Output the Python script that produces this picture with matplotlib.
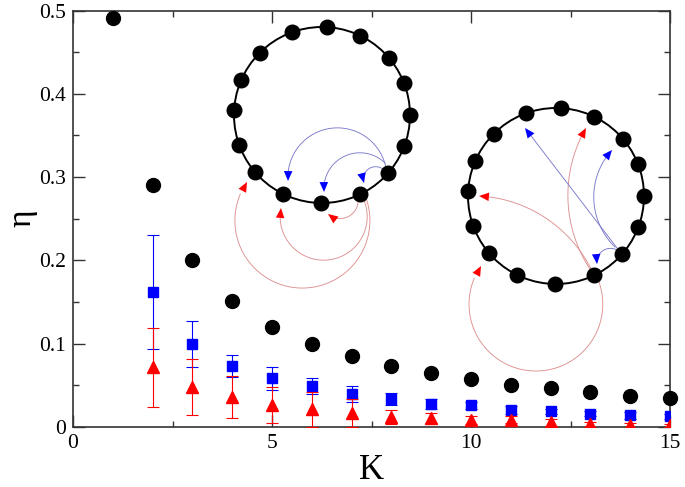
import numpy as np
import matplotlib
matplotlib.use("Agg")
import matplotlib.pyplot as plt
from matplotlib.patches import FancyArrowPatch, Circle

# ---------------- data ----------------
K_black = [1, 2, 3, 4, 5, 6, 7, 8, 9, 10, 11, 12, 13, 14, 15]
eta_black = [0.491, 0.290, 0.200, 0.151, 0.120, 0.0996, 0.0852, 0.0730, 0.0644,
             0.0572, 0.0504, 0.0464, 0.0424, 0.0376, 0.0344]

K_blue = [2, 3, 4, 5, 6, 7, 8, 9, 10, 11, 12, 13, 14, 15]
eta_blue = [0.162, 0.0996, 0.0732, 0.0584, 0.0496, 0.0396, 0.0336, 0.0280,
            0.0260, 0.0208, 0.0188, 0.0160, 0.0140, 0.0132]
err_blue = [0.068, 0.028, 0.0134, 0.0135, 0.0096, 0.0096, 0.007, 0.006,
            0.004, 0.005, 0.003, 0.003, 0.004, 0.003]

K_red = [2, 3, 4, 5, 6, 7, 8, 9, 10, 11, 12, 13, 14, 15]
eta_red = [0.0715, 0.0484, 0.0364, 0.0264, 0.0212, 0.0164, 0.0120, 0.0104,
           0.0084, 0.0088, 0.0056, 0.0036, 0.0020, 0.0020]
err_red = [0.0475, 0.0335, 0.025, 0.022, 0.021, 0.017, 0.008, 0.006,
           0.005, 0.004, 0.004, 0.003, 0.003, 0.002]

x_ticks = [0, 5, 10, 15]
y_ticks = [0, 0.1, 0.2, 0.3, 0.4, 0.5]
y_tick_labels = ["0", "0.1", "0.2", "0.3", "0.4", "0.5"]

# ---- inset diagrams (pixel coordinates of the illustration) ----
ring_angles = [87, 64.5, 40.7, 21.5, 0, -20.4, -41, -64.2, -90.7, -116.3,
               -139.3, -159.8, 177, 156.5, 135, 110]
ring_centers = [(322, 115), (556, 196)]
ring_radius = 88

# arrows: (start, through, end) ; through=None -> straight
arrows_blue = [
    ((386, 168), (341, 128), (288, 181)),
    ((385, 163), (343, 157), (324, 192)),
    ((384, 170), (373, 167), (364, 183)),
    ((617, 248), None, (525, 128)),
    ((615, 247), (595, 210), (612, 150)),
    ((617, 250), (604, 250), (597, 264)),
]
arrows_red = [
    ((358, 198), (352, 214), (328, 214)),
    ((363, 198), (320, 260), (281, 208)),
    ((366, 198), (305, 288), (247, 182)),
    ((592, 272), (568, 190), (586, 128)),
    ((593, 273), (550, 221), (479, 196)),
    ((597, 277), (537, 371), (481, 266)),
]

# ---------------- figure ----------------
W, H = 685, 487
fig = plt.figure(figsize=(W / 100, H / 100), dpi=100)
ax = fig.add_axes([73 / W, 1 - 427 / H, (670 - 73) / W, (427 - 10.5) / H])

serif = ["Liberation Serif", "DejaVu Serif"]

ax.errorbar(K_blue, eta_blue, yerr=err_blue, fmt="s", color="#0000ff",
            ms=7.5, elinewidth=0.8, capsize=4, capthick=0.8, zorder=3)
ax.errorbar(K_red, eta_red, yerr=err_red, fmt="^", color="#ff0000",
            ms=8.5, elinewidth=0.8, capsize=4, capthick=0.8, zorder=4)
ax.plot(K_black, eta_black, "o", color="black", ms=10, zorder=5, clip_on=False)

ax.set_xlim(0, 15)
ax.set_ylim(0, 0.5)
ax.set_xticks(x_ticks)
ax.set_xticks(np.arange(0, 15.01, 2.5), minor=True)
ax.set_yticks(y_ticks)
ax.set_yticklabels(y_tick_labels)
ax.set_yticks(np.arange(0, 0.501, 0.05), minor=True)
ax.tick_params(which="both", direction="in", top=True, right=True,
               labelsize=15.5, pad=5, width=1.0, color="#333333")
ax.tick_params(which="major", length=8.5)
ax.tick_params(which="minor", length=4.5)
for lab in ax.get_xticklabels() + ax.get_yticklabels():
    lab.set_family(serif)
for sp in ax.spines.values():
    sp.set_linewidth(1.2)
    sp.set_color("#333333")

ax.set_xlabel("K", fontsize=25, family=serif, labelpad=1)
fig.text(22 / W, 1 - 218 / H, "η", rotation=90, fontsize=24, family=serif,
         ha="center", va="center")

# ---------------- overlay for insets ----------------
ov = fig.add_axes([0, 0, 1, 1])
ov.set_xlim(0, W)
ov.set_ylim(H, 0)
ov.axis("off")


def arc_points(p0, pm, p1, n=120):
    p0, p1 = np.asarray(p0, float), np.asarray(p1, float)
    if pm is None:
        t = np.linspace(0, 1, n)[:, None]
        pts = p0 + t * (p1 - p0)
        return pts[:, 0], pts[:, 1]
    pm = np.asarray(pm, float)
    ax_, ay_ = p0
    bx, by = pm
    cx_, cy_ = p1
    d = 2 * (ax_ * (by - cy_) + bx * (cy_ - ay_) + cx_ * (ay_ - by))
    ux = ((ax_**2 + ay_**2) * (by - cy_) + (bx**2 + by**2) * (cy_ - ay_)
          + (cx_**2 + cy_**2) * (ay_ - by)) / d
    uy = ((ax_**2 + ay_**2) * (cx_ - bx) + (bx**2 + by**2) * (ax_ - cx_)
          + (cx_**2 + cy_**2) * (bx - ax_)) / d
    r = np.hypot(ax_ - ux, ay_ - uy)
    a0 = np.arctan2(ay_ - uy, ax_ - ux)
    am = np.arctan2(by - uy, bx - ux)
    a1 = np.arctan2(cy_ - uy, cx_ - ux)
    d1 = (a1 - a0) % (2 * np.pi)
    dm = (am - a0) % (2 * np.pi)
    sweep = d1 if dm < d1 else d1 - 2 * np.pi
    t = a0 + np.linspace(0, sweep, n)
    return ux + r * np.cos(t), uy + r * np.sin(t)


def draw_arrow(spec, line_color, head_color):
    p0, pm, p1 = spec
    xs, ys = arc_points(p0, pm, p1)
    ov.plot(xs[:-6], ys[:-6], color=line_color, lw=0.65, zorder=2)
    head = FancyArrowPatch(posA=(xs[-8], ys[-8]), posB=(xs[-1], ys[-1]),
                           arrowstyle="-|>,head_length=0.65,head_width=0.28",
                           mutation_scale=11, color=head_color, lw=0,
                           shrinkA=0, shrinkB=0, zorder=4)
    ov.add_patch(head)


for (cx, cy) in ring_centers:
    ov.add_patch(Circle((cx, cy), ring_radius, fill=False, ec="black",
                        lw=1.4, zorder=3))
    ang = np.deg2rad(ring_angles)
    ov.plot(cx + ring_radius * np.cos(ang), cy - ring_radius * np.sin(ang),
            "o", color="black", ms=10.5, zorder=5)

for spec in arrows_red:
    draw_arrow(spec, "#dd9090", "#ff0000")
for spec in arrows_blue:
    draw_arrow(spec, "#7a7acc", "#0000ff")

fig.savefig("out.png", dpi=100)
